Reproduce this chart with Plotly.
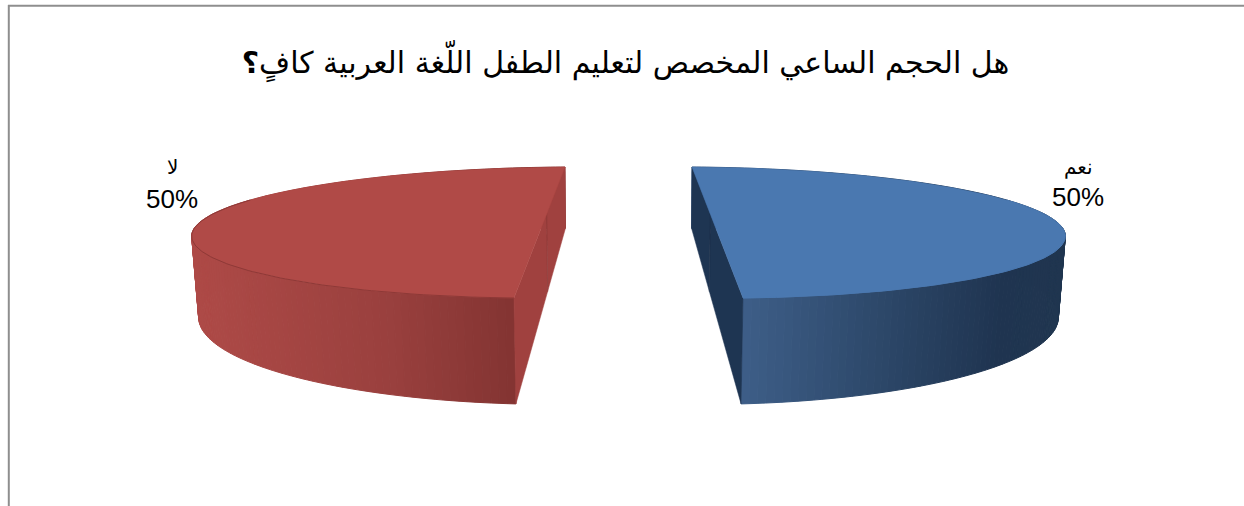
import numpy as np
import plotly.graph_objects as go

# Survey answers and their shares
categories = ["نعم", "لا"]
values = [50, 50]
title_text = "هل الحجم الساعي المخصص لتعليم الطفل اللّغة العربية كافٍ<b>؟</b>"

# Per-slice colours: top face, cut faces, rim shading from cut edge to outer edge
top_colors = ["#4a78b0", "#b04a47"]
cut_colors = ["#1e3552", "#a0413f"]
edge_colors = ["#4a78b0", "#8e3937"]
rim_stops = [
    [(0.0, "#3d5e88"), (0.5, "#2a4464"), (0.8, "#1f3450"), (1.0, "#203650")],
    [(0.0, "#833432"), (0.4, "#9a403e"), (1.0, "#ae4a47")],
]

W, H = 1244, 506
MIRROR_X = 1257  # the two exploded slices sit symmetrically about x = 628.5

# Perspective camera: maps (u, v, 1) on the unit disc to homogeneous page coordinates
CAM = np.array([
    [323.0436, 178.7254, 546.7423],
    [-10.6595, 0.5332, 213.8971],
    [-0.05003, 0.28401, 1.0],
])
# Vanishing point of the vertical edges, and the disc thickness in camera units
Vx, Vy, K = 600.0, 5000.0, 0.01650


def to_page(p, bottom, mirror):
    k = K if bottom else 0.0
    x = (p[0] + k * Vx) / (p[2] + k)
    y = (p[1] + k * Vy) / (p[2] + k)
    return (MIRROR_X - x if mirror else x), y


def project(theta, bottom, mirror):
    theta = np.asarray(theta, float)
    return to_page(CAM @ np.array([np.cos(theta), np.sin(theta), np.ones_like(theta)]), bottom, mirror)


def center(bottom, mirror):
    return to_page(CAM @ np.array([0.0, 0.0, 1.0]), bottom, mirror)


def mix(stops, f):
    fs = [s[0] for s in stops]
    rgb = [[int(s[1][i:i + 2], 16) for i in (1, 3, 5)] for s in stops]
    return "rgb({:.0f},{:.0f},{:.0f})".format(*[np.interp(f, fs, [c[j] for c in rgb]) for j in range(3)])


def poly(x, y, color, line=0.0, line_color=None):
    return go.Scatter(x=list(x) + [x[0]], y=list(y) + [y[0]], mode="lines", fill="toself",
                      fillcolor=color, line=dict(color=line_color or color, width=line),
                      hoverinfo="skip", showlegend=False)


fig = go.Figure()
total = sum(values)
for idx, val in enumerate(values):
    mirror = idx == 0
    span = 2 * np.pi * val / total
    th = np.linspace(np.pi / 2, np.pi / 2 + span, 181)
    xt, yt = project(th, False, mirror)
    xb, yb = project(th, True, mirror)
    xa = abs(xb[-1] - xb).max()

    # Curved rim, one shaded strip per step
    for i in range(len(th) - 1):
        f = abs(0.5 * (xb[i] + xb[i + 1]) - xb[-1]) / xa
        c = mix(rim_stops[idx], f)
        fig.add_trace(poly([xt[i], xt[i + 1], xb[i + 1], xb[i]], [yt[i], yt[i + 1], yb[i + 1], yb[i]], c, 1.0))

    # Two cut faces meeting at the disc axis
    cx, cy = center(False, mirror)
    dx, dy = center(True, mirror)
    fig.add_trace(poly([xt[0], cx, dx, xb[0]], [yt[0], cy, dy, yb[0]], cut_colors[idx], 0.5))
    fig.add_trace(poly([cx, xt[-1], xb[-1], dx], [cy, yt[-1], yb[-1], dy], cut_colors[idx], 0.5))
    fig.add_trace(go.Scatter(x=[cx, dx], y=[cy, dy], mode="lines", hoverinfo="skip", showlegend=False,
                             line=dict(color="rgba(0,0,0,0.10)", width=1)))

    # Top face
    fig.add_trace(poly(xt, yt, top_colors[idx], 0.5))
    fig.add_trace(go.Scatter(x=xt[75:], y=yt[75:], mode="lines", hoverinfo="skip", showlegend=False,
                             line=dict(color=edge_colors[idx], width=1)))

# Category and percentage labels beside each slice
label_pos = [(1078, 167, 197), (172, 167, 199)]
annotations = []
for (name, val, (lx, ny, py)) in zip(categories, values, label_pos):
    annotations.append(dict(x=lx, y=ny, text=name, showarrow=False, xref="x", yref="y",
                            font=dict(family="DejaVu Sans", size=20, color="#000000")))
    annotations.append(dict(x=lx, y=py, text=f"{round(100 * val / total)}%", showarrow=False, xref="x", yref="y",
                            font=dict(family="Liberation Sans", size=26, color="#000000")))

fig.update_layout(
    width=W, height=H, margin=dict(l=0, r=0, t=0, b=0, pad=0),
    paper_bgcolor="#ffffff", plot_bgcolor="#ffffff", showlegend=False,
    title=dict(text=title_text, x=625.5 / W, xanchor="center", y=1 - 62 / H, yanchor="middle",
               font=dict(family="DejaVu Sans", size=30, color="#000000")),
    xaxis=dict(range=[0, W], visible=False, fixedrange=True),
    yaxis=dict(range=[H, 0], visible=False, fixedrange=True),
    annotations=annotations,
    shapes=[
        dict(type="line", xref="x", yref="y", x0=8, y0=5.8, x1=W, y1=5.8, line=dict(color="#8e8e8e", width=2)),
        dict(type="line", xref="x", yref="y", x0=8.8, y0=5, x1=8.8, y1=H, line=dict(color="#8e8e8e", width=2)),
    ],
)
fig.write_html("out.html")
